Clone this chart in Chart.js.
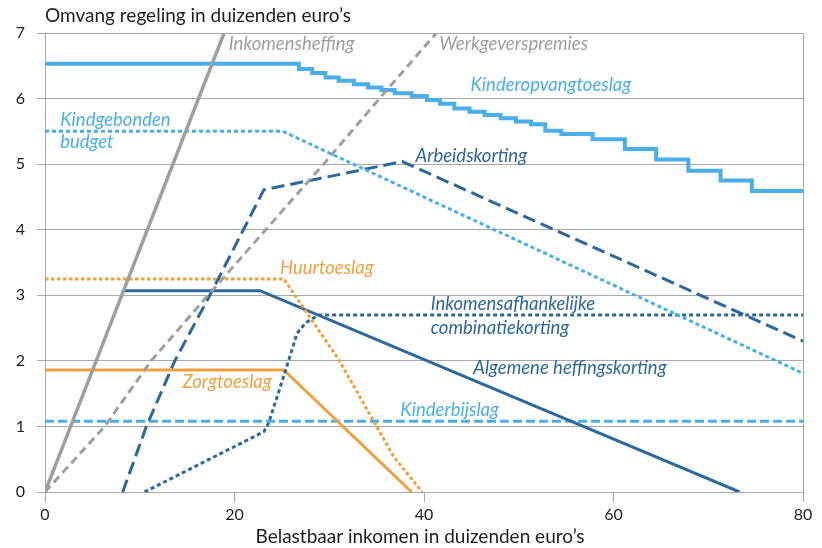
<!DOCTYPE html>
<html>
<head>
<meta charset="utf-8">
<script src="https://cdn.jsdelivr.net/npm/chart.js@4.4.1/dist/chart.umd.min.js"></script>
<style>
  html, body { margin: 0; padding: 0; background: #fff; }
  #chart { display: block; }
</style>
</head>
<body>
<canvas id="chart" width="822" height="548"></canvas>
<script>
// x = belastbaar inkomen (duizenden euro's), y = omvang regeling (duizenden euro's)
const xTicks = [0, 20, 40, 60, 80];
const yTicks = [0, 1, 2, 3, 4, 5, 6, 7];

const inkomensheffingX = [0, 18.9];
const inkomensheffingY = [0, 7];

const werkgeverspremiesX = [0, 6.3, 11.2, 17.2, 23.3, 29.4, 35.3, 41.3];
const werkgeverspremiesY = [0, 1, 2, 3, 4, 5, 6, 7];

// stepped line, each value holds until the next x
const kinderopvangX = [0, 26.8, 28.2, 29.6, 31.0, 32.6, 34.1, 35.5, 36.9, 38.7, 40.3, 41.7,
  43.2, 44.8, 46.4, 48.1, 49.7, 51.3, 52.8, 54.5, 57.8, 61.2, 64.5, 67.9, 71.3, 74.6, 78.0, 80];
const kinderopvangY = [6.56, 6.53, 6.45, 6.39, 6.32, 6.27, 6.22, 6.17, 6.13, 6.08, 6.04, 5.98,
  5.92, 5.85, 5.80, 5.75, 5.70, 5.65, 5.61, 5.51, 5.46, 5.38, 5.23, 5.07, 4.90, 4.75, 4.59, 4.59];

const kindgebondenX = [0, 25.1, 80];
const kindgebondenY = [5.5, 5.5, 1.81];

const arbeidskortingX = [8.2, 10.7, 13.7, 17.4, 23.1, 31.0, 37.7, 80];
const arbeidskortingY = [0, 1, 2, 3, 4.61, 4.84, 5.04, 2.30];

const huurtoeslagX = [0, 25.2, 31.0, 36.8, 39.8];
const huurtoeslagY = [3.25, 3.25, 2.02, 0.54, 0];

const algemeneX = [8.4, 22.7, 73.3];
const algemeneY = [3.07, 3.07, 0];

const combinatieX = [10.5, 23.1, 23.6, 25.4, 26.6, 27.5, 28.9, 80];
const combinatieY = [0, 0.92, 1.05, 1.86, 2.42, 2.58, 2.70, 2.70];

const zorgtoeslagX = [0, 25.2, 38.7];
const zorgtoeslagY = [1.86, 1.86, 0];

const kinderbijslagX = [0, 80];
const kinderbijslagY = [1.08, 1.08];

const GREY = "#9f9f9f";
const LIGHT = "#4aaeea";
const DARK = "#2d689c";
const ORANGE = "#f0a040";
const GRID = "#a8a8a8";

const toPoints = (xs, ys) => xs.map((x, i) => ({ x: x, y: ys[i] }));

const line = (xs, ys, color, dash, width, extra) => Object.assign({
  data: toPoints(xs, ys),
  borderColor: color,
  borderWidth: width,
  borderDash: dash,
  borderCapStyle: "butt",
  pointRadius: 0,
  fill: false,
  tension: 0,
}, extra || {});

// texts placed in data units
const labels = [
  { text: "Inkomensheffing", x: 19.4, y: 6.83, color: GREY },
  { text: "Werkgeverspremies", x: 41.6, y: 6.83, color: GREY },
  { text: "Kinderopvangtoeslag", x: 44.9, y: 6.21, color: LIGHT },
  { text: "Kindgebonden", x: 1.6, y: 5.68, color: LIGHT },
  { text: "budget", x: 1.6, y: 5.33, color: LIGHT },
  { text: "Arbeidskorting", x: 39.1, y: 5.13, color: DARK },
  { text: "Huurtoeslag", x: 24.8, y: 3.42, color: ORANGE },
  { text: "Inkomensafhankelijke", x: 40.7, y: 2.86, color: DARK },
  { text: "combinatiekorting", x: 40.7, y: 2.50, color: DARK },
  { text: "Algemene heffingskorting", x: 45.2, y: 1.89, color: DARK },
  { text: "Kinderbijslag", x: 37.5, y: 1.25, color: LIGHT },
  { text: "Zorgtoeslag", x: 14.5, y: 1.67, color: ORANGE },
];

const textPlugin = {
  id: "texts",
  afterDraw(chart) {
    const ctx = chart.ctx;
    const xs = chart.scales.x;
    const ys = chart.scales.y;
    ctx.save();
    ctx.textBaseline = "middle";
    ctx.textAlign = "left";
    ctx.font = "italic 18.5px Lato";
    labels.forEach(l => {
      ctx.fillStyle = l.color;
      ctx.fillText(l.text, xs.getPixelForValue(l.x), ys.getPixelForValue(l.y));
    });
    // axis titles
    ctx.fillStyle = "#1e1e1e";
    ctx.font = "19px Lato";
    ctx.fillText("Omvang regeling in duizenden euro’s", chart.chartArea.left, 16);
    ctx.textAlign = "center";
    ctx.fillText("Belastbaar inkomen in duizenden euro’s", (chart.chartArea.left + chart.chartArea.right) / 2 - 4, 537);
    ctx.restore();
  }
};

new Chart(document.getElementById("chart"), {
  type: "line",
  data: {
    datasets: [
      line(inkomensheffingX, inkomensheffingY, GREY, [], 3.5),
      line(werkgeverspremiesX, werkgeverspremiesY, GREY, [8, 5], 3),
      line(kinderopvangX, kinderopvangY, LIGHT, [], 4, { stepped: "after" }),
      line(kindgebondenX, kindgebondenY, LIGHT, [4, 3], 3),
      line(arbeidskortingX, arbeidskortingY, DARK, [13, 6], 3),
      line(huurtoeslagX, huurtoeslagY, ORANGE, [3.5, 2.5], 3),
      line(algemeneX, algemeneY, DARK, [], 3),
      line(combinatieX, combinatieY, DARK, [4, 3], 3),
      line(zorgtoeslagX, zorgtoeslagY, ORANGE, [], 3),
      line(kinderbijslagX, kinderbijslagY, LIGHT, [9, 4], 3),
    ]
  },
  options: {
    responsive: false,
    animation: false,
    layout: { padding: { top: 33, right: 19, left: 0, bottom: 0 } },
    plugins: {
      legend: { display: false },
      tooltip: { enabled: false },
    },
    scales: {
      x: {
        type: "linear",
        min: 0,
        max: 80,
        afterFit: (scale) => { scale.height = 56; },
        afterBuildTicks: (scale) => { scale.ticks = xTicks.map(v => ({ value: v })); },
        ticks: { color: "#1e1e1e", font: { family: "Lato", size: 16 }, padding: 3 },
        grid: {
          color: (c) => (c.tick && (c.tick.value === 0 || c.tick.value === 80)) ? GRID : "rgba(0,0,0,0)",
          tickColor: GRID,
          tickLength: 10,
          lineWidth: 1,
        },
        border: { display: false },
      },
      y: {
        min: 0,
        max: 7,
        afterFit: (scale) => { scale.width = 45; },
        afterBuildTicks: (scale) => { scale.ticks = yTicks.map(v => ({ value: v })); },
        ticks: { color: "#1e1e1e", font: { family: "Lato", size: 16 }, padding: 12 },
        grid: { color: GRID, tickColor: GRID, tickLength: 8, lineWidth: 1 },
        border: { display: false },
      }
    }
  },
  plugins: [textPlugin]
});
</script>
</body>
</html>
